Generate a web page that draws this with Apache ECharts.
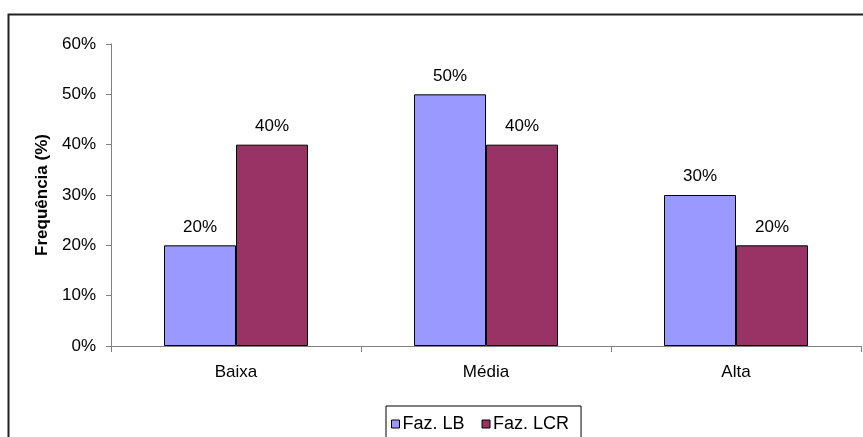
<!DOCTYPE html>
<html>
<head>
<meta charset="utf-8">
<script src="https://cdn.jsdelivr.net/npm/echarts@6/dist/echarts.min.js"></script>
<style>
  html, body { margin: 0; padding: 0; background: #fff; }
  #chart { width: 863px; height: 437px; }
</style>
</head>
<body>
<div id="chart"></div>
<script>
var categories = ['Baixa', 'Média', 'Alta']
var fazLB = [20, 50, 30]
var fazLCR = [40, 40, 20]
var seriesNames = ['Faz. LB', 'Faz. LCR']
var yTicks = [0, 10, 20, 30, 40, 50, 60]

var font = 'Liberation Sans, Arial, sans-serif'
var chart = echarts.init(document.getElementById('chart'))

function barSeries (name, data, color) {
  return {
    name: name,
    type: 'bar',
    data: data,
    barGap: '0%',
    barCategoryGap: '42.4%',
    itemStyle: { color: color, borderColor: '#000', borderWidth: 1 },
    label: {
      show: true,
      position: 'top',
      distance: 10,
      formatter: '{c}%',
      color: '#000',
      fontFamily: font,
      fontSize: 17
    }
  }
}

chart.setOption({
  animation: false,
  graphic: [{
    type: 'rect',
    shape: { x: 8.5, y: 14.5, width: 900, height: 500 },
    style: { fill: 'none', stroke: '#222', lineWidth: 2 },
    z: -1
  }],
  grid: { left: 111, right: 2, top: 44, bottom: 91 },
  legend: {
    top: 406,
    left: 386,
    itemWidth: 8,
    itemHeight: 8,
    itemGap: 17,
    padding: [9, 12, 20, 5],
    borderColor: '#000',
    borderWidth: 1,
    icon: 'rect',
    textStyle: { fontFamily: font, fontSize: 18, color: '#000', padding: [0, 0, 0, -2] },
    itemStyle: { borderColor: '#000', borderWidth: 1 },
    data: seriesNames
  },
  xAxis: {
    type: 'category',
    data: categories,
    axisLine: { lineStyle: { color: '#808080', width: 1 } },
    axisTick: { show: true, length: 6, lineStyle: { color: '#808080' } },
    axisLabel: { fontFamily: font, fontSize: 17, color: '#000', margin: 18 }
  },
  yAxis: {
    type: 'value',
    min: yTicks[0],
    max: yTicks[yTicks.length - 1],
    interval: 10,
    name: 'Frequência (%)',
    nameLocation: 'middle',
    nameGap: 60,
    nameTextStyle: { fontFamily: font, fontSize: 17, fontWeight: 'bold', color: '#000' },
    axisLine: { show: true, lineStyle: { color: '#808080', width: 1 } },
    axisTick: { show: true, length: 5, lineStyle: { color: '#808080' } },
    splitLine: { show: false },
    axisLabel: { fontFamily: font, fontSize: 17, color: '#000', margin: 15, formatter: '{value}%' }
  },
  series: [
    barSeries(seriesNames[0], fazLB, '#9999FF'),
    barSeries(seriesNames[1], fazLCR, '#993366')
  ]
})
</script>
</body>
</html>
